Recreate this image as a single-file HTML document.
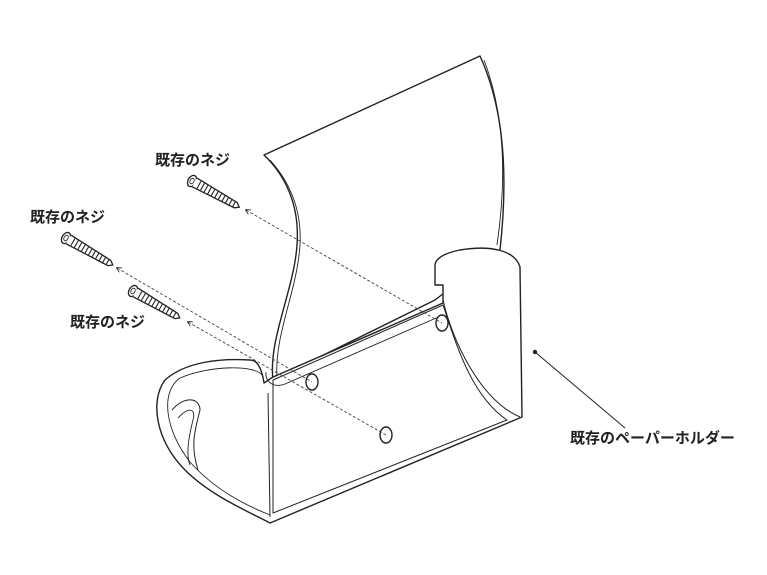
<!DOCTYPE html>
<html><head><meta charset="utf-8"><style>
html,body{margin:0;padding:0;background:#fff;}
svg{display:block}
text{font-family:"Liberation Sans","Noto Sans CJK JP",sans-serif;font-size:15px;fill:#222;font-weight:bold}
</style></head><body>
<svg width="767" height="575" viewBox="0 0 767 575" xmlns="http://www.w3.org/2000/svg">
<defs>
<marker id="ar" markerWidth="6" markerHeight="6" refX="1" refY="3" orient="auto"><path d="M6,0 L0,3 L6,6" fill="none" stroke="#333" stroke-width="1"/></marker>
<g id="screw">
<ellipse cx="0" cy="0" rx="4" ry="6" fill="#fff" stroke="#222" stroke-width="1.3"/>
<ellipse cx="0" cy="0" rx="2" ry="3" fill="none" stroke="#222" stroke-width="0.8"/>
<path d="M3,-5 L50,-3 L54,0 L50,3 L3,5" fill="#fff" stroke="#222" stroke-width="1.3"/>
<path d="M8,-4v8M12,-4v8M16,-4v8M20,-4v8M24,-4v8M28,-4v8M32,-4v8M36,-4v8M40,-4v8M44,-4v8M48,-3v6" stroke="#222" stroke-width="1.1"/>
</g>
</defs>
<g fill="#fff" stroke="#222" stroke-width="1.4" stroke-linejoin="round">
<!-- back panel -->
<path d="M264,155 L480,56 C500,100 510,160 500,250 L435,300 L273,380 C268,340 294,290 297,245 C300,205 285,175 264,155 Z"/>
<path d="M270,160 C288,180 302,208 300,245 C297,292 274,335 277,378" fill="none" stroke-width="0.9"/>
<path d="M484,60 C503,110 508,170 497,245" fill="none" stroke-width="0.9"/>
<!-- base -->
<path d="M264,383 C262,370 258,360 250,360 C220,358 185,362 165,380 C150,400 155,440 185,470 C210,495 245,510 270,523 L522,417 L520,267 C515,250 490,245 460,250 C445,253 436,258 435,265 L435,285 L443,285 L443,303 L273,377 Z"/>
<path d="M273,380 L443,305 C455,340 470,395 507,420 L273,513 Z" fill="#fff" stroke-width="1"/>
<path d="M443,300 C452,340 480,400 520,417" fill="none" stroke-width="1"/>
<path d="M268,393 L270,517" stroke-width="1"/>
<path d="M262,375 C255,365 210,365 180,378 C160,392 165,430 190,462 C215,490 245,505 270,515" fill="none" stroke-width="0.9"/>
<path d="M172,410 C185,395 200,398 200,410 C195,430 190,445 198,470" fill="none" stroke-width="1"/>
<path d="M178,418 C190,405 196,410 193,420 C188,440 186,455 190,465" fill="none" stroke-width="0.9"/>
<path d="M266,372 C265,383 275,388 285,384 L443,315" fill="none" stroke-width="0.9"/>
<!-- holes -->
<ellipse cx="442" cy="323" rx="6" ry="8"/>
<ellipse cx="312" cy="382" rx="6" ry="8"/>
<ellipse cx="386" cy="435" rx="6" ry="8"/>
</g>
<g stroke="#444" stroke-width="0.9" stroke-dasharray="3,2" fill="none">
<line x1="246" y1="210" x2="442" y2="323" marker-start="url(#ar)"/>
<line x1="117" y1="268" x2="312" y2="382" marker-start="url(#ar)"/>
<line x1="188" y1="322" x2="386" y2="435" marker-start="url(#ar)"/>
</g>
<g transform="translate(192,181) rotate(29)"><use href="#screw"/></g>
<g transform="translate(66,238) rotate(30)"><use href="#screw"/></g>
<g transform="translate(133,291) rotate(30)"><use href="#screw"/></g>
<text x="155" y="165">既存のネジ</text>
<text x="30" y="222">既存のネジ</text>
<text x="70" y="327">既存のネジ</text>
<circle cx="535" cy="352" r="2.2" fill="#222"/>
<line x1="535" y1="352" x2="625" y2="428" stroke="#222" stroke-width="1"/>
<text x="570" y="443">既存のペーパーホルダー</text>
</svg>
</body></html>
